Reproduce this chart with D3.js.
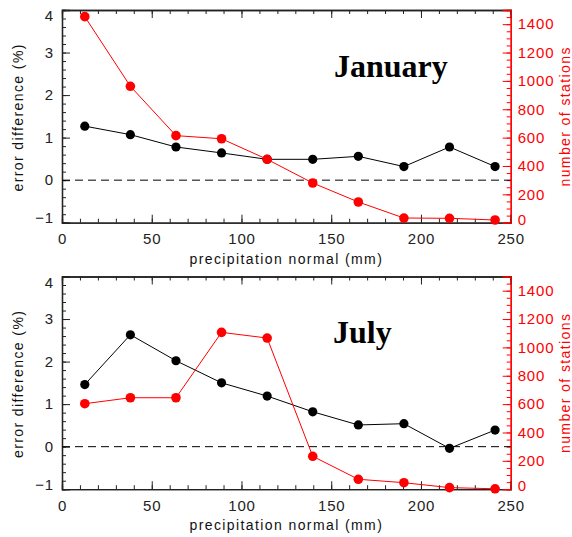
<!DOCTYPE html>
<html>
<head>
<meta charset="utf-8">
<script src="https://cdn.jsdelivr.net/npm/d3@7"></script>
<style>
  body { margin: 0; background: #fff; }
  svg text { font-family: "Liberation Sans", Arial, sans-serif; }
</style>
</head>
<body>
<svg id="chart" width="572" height="537"></svg>
<script>
// bin centres (1 inch bins, in mm)
var binCenters = [12.7, 38.1, 63.5, 88.9, 114.3, 139.7, 165.1, 190.5, 215.9, 241.3];

var janError    = [1.27, 1.07, 0.78, 0.64, 0.49, 0.49, 0.56, 0.32, 0.78, 0.32];
var janStations = [1453, 962, 614, 592, 447, 280, 146, 33, 31, 19];

var julError    = [1.46, 2.63, 2.02, 1.50, 1.19, 0.82, 0.51, 0.54, -0.04, 0.39];
var julStations = [603, 645, 645, 1106, 1066, 232, 70, 46, 11, 3];

var xTicks       = [0, 50, 100, 150, 200, 250];
var errTicks     = [-1, 0, 1, 2, 3, 4];
var stationTicks = [0, 200, 400, 600, 800, 1000, 1200, 1400];

var svg = d3.select("#chart");
var left = 62, right = 510.7;

var x = d3.scaleLinear().domain([0, 250]).range([left, right]);

var panels = [
  { top: 10,    bottom: 222.7, name: "January", err: janError, stn: janStations, lx: 334, ly: 77 },
  { top: 276.5, bottom: 489.2, name: "July",    err: julError, stn: julStations, lx: 333, ly: 343 }
];

panels.forEach(drawPanel);

function styleAxis(g, color) {
  g.selectAll("path.domain").attr("stroke", color).attr("stroke-width", 1.3);
  g.selectAll(".tick line").attr("stroke", color).attr("stroke-width", 1);
  g.selectAll(".tick text")
    .attr("fill", color)
    .style("font-size", "15px")
    .style("letter-spacing", "0.8px");
}

function drawPanel(p) {
  var yL = d3.scaleLinear().domain([-1, 4]).range([p.bottom, p.top]);
  var yR = d3.scaleLinear().domain([0, 1500]).range([p.bottom, p.top]);
  var g = svg.append("g");

  // minor ticks
  g.append("g").attr("transform", "translate(0," + p.bottom + ")")
    .call(d3.axisBottom(x).ticks(25).tickSize(-4).tickFormat(""))
    .call(styleAxis, "#222");
  g.append("g").attr("transform", "translate(0," + p.top + ")")
    .call(d3.axisTop(x).ticks(25).tickSize(-4).tickFormat(""))
    .call(styleAxis, "#222");
  g.append("g").attr("transform", "translate(" + left + ",0)")
    .call(d3.axisLeft(yL).ticks(25).tickSize(-4).tickFormat(""))
    .call(styleAxis, "#222");
  g.append("g").attr("transform", "translate(" + right + ",0)")
    .call(d3.axisRight(yR).ticks(30).tickSize(-4).tickFormat(""))
    .call(styleAxis, "red");

  // major ticks
  g.append("g").attr("transform", "translate(0," + p.bottom + ")")
    .call(d3.axisBottom(x).tickValues(xTicks).tickSize(-8).tickPadding(11))
    .call(styleAxis, "#222");
  g.append("g").attr("transform", "translate(0," + p.top + ")")
    .call(d3.axisTop(x).tickValues(xTicks).tickSize(-8).tickFormat(""))
    .call(styleAxis, "#222");
  var gl = g.append("g").attr("transform", "translate(" + left + ",0)")
    .call(d3.axisLeft(yL).tickValues(errTicks).tickSize(-8).tickPadding(8)
      .tickFormat(function (d) { return d < 0 ? "\u2212" + (-d) : d; }))
    .call(styleAxis, "#222");
  var gr = g.append("g").attr("transform", "translate(" + right + ",0)")
    .call(d3.axisRight(yR).tickValues(stationTicks).tickSize(-8).tickPadding(7)
      .tickFormat(d3.format("d")))
    .call(styleAxis, "red");

  // end labels nudged inside like the original
  gl.selectAll(".tick text").attr("dy", function (d) {
    return d === -1 ? "0.0em" : d === 4 ? "0.7em" : "0.32em";
  });
  gr.selectAll(".tick text").attr("dy", function (d) { return d === 0 ? "0.1em" : "0.32em"; });

  // zero line
  g.append("line")
    .attr("x1", left).attr("x2", right)
    .attr("y1", yL(0)).attr("y2", yL(0))
    .attr("stroke", "#000").attr("stroke-dasharray", "8,5");

  // error difference series
  var errPts = binCenters.map(function (c, i) { return [c, p.err[i]]; });
  g.append("path").datum(errPts)
    .attr("fill", "none").attr("stroke", "#000").attr("stroke-width", 1)
    .attr("d", d3.line().x(function (d) { return x(d[0]); }).y(function (d) { return yL(d[1]); }));
  g.selectAll("circle.err").data(errPts).enter().append("circle")
    .attr("class", "err")
    .attr("cx", function (d) { return x(d[0]); })
    .attr("cy", function (d) { return yL(d[1]); })
    .attr("r", 4.6).attr("fill", "#000");

  // station count series
  var stnPts = binCenters.map(function (c, i) { return [c, p.stn[i]]; });
  g.append("path").datum(stnPts)
    .attr("fill", "none").attr("stroke", "red").attr("stroke-width", 1)
    .attr("d", d3.line().x(function (d) { return x(d[0]); }).y(function (d) { return yR(d[1]); }));
  g.selectAll("circle.stn").data(stnPts).enter().append("circle")
    .attr("class", "stn")
    .attr("cx", function (d) { return x(d[0]); })
    .attr("cy", function (d) { return yR(d[1]); })
    .attr("r", 4.8).attr("fill", "red");

  // axis titles
  g.append("text")
    .attr("x", (left + right) / 2).attr("y", p.bottom + 41)
    .attr("text-anchor", "middle")
    .style("font-size", "14px").style("letter-spacing", "1.4px")
    .attr("fill", "#111")
    .text("precipitation normal (mm)");
  g.append("text")
    .attr("transform", "translate(23," + ((p.top + p.bottom) / 2 + 1) + ") rotate(-90)")
    .attr("text-anchor", "middle")
    .style("font-size", "14px").style("letter-spacing", "1.4px")
    .attr("fill", "#111")
    .text("error difference (%)");
  g.append("text")
    .attr("transform", "translate(570," + ((p.top + p.bottom) / 2) + ") rotate(-90)")
    .attr("text-anchor", "middle")
    .style("font-size", "14px").style("letter-spacing", "1.4px")
    .attr("fill", "red")
    .text("number of stations");

  // month label
  g.append("text")
    .attr("x", p.lx).attr("y", p.ly)
    .style("font-family", "'Liberation Serif', 'Times New Roman', serif")
    .style("font-weight", "bold").style("font-size", "32px")
    .attr("fill", "#000")
    .text(p.name);
}
</script>
</body>
</html>
